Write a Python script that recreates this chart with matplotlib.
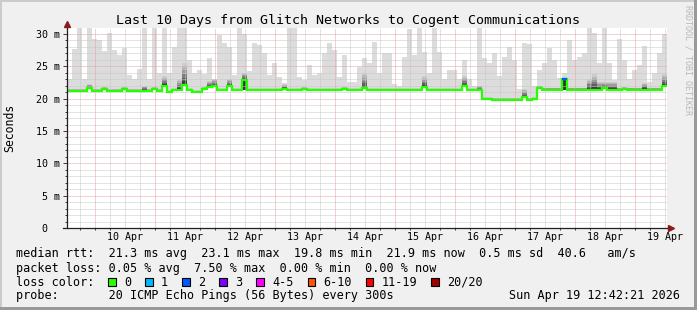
import numpy as np
import matplotlib
matplotlib.use("Agg")
import matplotlib.pyplot as plt
from matplotlib.patches import Rectangle

# SmokePing style graph, last 10 days
W, H, DPI = 697, 310, 100
MONO = "DejaVu Sans Mono"
plt.rcParams["font.family"] = MONO

# ---- data (2 hour buckets starting Apr 9 12:42, values in ms) ----
start_day = 9 + 12.7 / 24
bucket_days = 2 / 24

day_labels = ["10 Apr", "11 Apr", "12 Apr", "13 Apr", "14 Apr",
              "15 Apr", "16 Apr", "17 Apr", "18 Apr", "19 Apr"]
y_labels = [" 0", " 5 m", "10 m", "15 m", "20 m", "25 m", "30 m"]

median = [
    21.2, 21.2, 21.2, 21.2, 21.6, 21.2, 21.2, 21.5, 21.2, 21.2, 21.2, 21.5,
    21.2, 21.2, 21.2, 21.2, 21.2, 21.5, 21.2, 22.0, 21.0, 21.3, 21.3, 22.1,
    21.3, 21.0, 21.0, 21.5, 21.8, 22.0, 21.3, 21.3, 22.0, 21.3, 21.3, 22.9,
    21.3, 21.3, 21.3, 21.3, 21.3, 21.3, 21.3, 21.5, 21.3, 21.3, 21.3, 21.5,
    21.3, 21.3, 21.3, 21.3, 21.3, 21.3, 21.3, 21.5, 21.3, 21.3, 21.3, 21.6,
    21.3, 21.3, 21.3, 21.3, 21.3, 21.3, 21.3, 21.3, 21.3, 21.3, 21.3, 21.8,
    21.3, 21.3, 21.3, 21.3, 21.3, 21.3, 21.3, 21.9, 21.3, 21.3, 21.3, 19.9,
    19.9, 19.8, 19.8, 19.8, 19.8, 19.8, 19.8, 20.2, 19.8, 19.9, 21.7, 21.4,
    21.4, 21.4, 21.4, 23.1, 21.4, 21.4, 21.4, 21.4, 21.4, 21.4, 21.4, 21.6,
    21.4, 21.4, 21.4, 21.5, 21.4, 21.4, 21.4, 21.4, 21.4, 21.4, 21.4, 21.9,
]

# highest pings (light smoke)
smoke_top = [
    23.0, 27.7, 31.5, 23.0, 31.5, 29.2, 29.1, 27.4, 30.1, 27.5, 26.8, 27.8,
    23.6, 23.1, 24.6, 31.5, 23.1, 31.5, 24.0, 31.5, 24.0, 28.0, 31.5, 31.5,
    26.0, 23.9, 24.4, 23.8, 26.3, 22.5, 29.9, 28.6, 28.0, 23.6, 31.0, 30.0,
    24.3, 28.6, 28.3, 27.0, 23.6, 25.5, 23.3, 22.5, 31.5, 31.5, 23.3, 22.9,
    25.2, 23.6, 24.0, 27.0, 28.6, 27.5, 23.3, 26.7, 22.6, 22.6, 24.9, 26.3,
    25.5, 28.8, 23.9, 27.0, 27.0, 22.3, 22.0, 26.5, 30.7, 26.8, 31.5, 27.2,
    23.9, 31.5, 27.2, 23.0, 24.4, 24.4, 23.0, 26.0, 23.0, 22.0, 31.5, 26.3,
    25.5, 27.0, 23.5, 26.5, 28.0, 26.0, 21.5, 28.6, 28.5, 22.0, 24.4, 25.5,
    27.8, 26.0, 23.2, 24.0, 29.1, 26.0, 26.5, 27.0, 31.5, 30.1, 25.5, 31.5,
    25.5, 22.9, 29.3, 26.0, 23.1, 24.4, 25.2, 28.2, 22.6, 24.0, 27.0, 30.0,
]

# upper edge of the dense (dark) smoke
dark_top = [
    21.5, 21.5, 21.5, 21.5, 22.3, 21.5, 21.5, 21.8, 21.5, 21.5, 21.5, 21.8,
    21.5, 21.5, 21.5, 22.0, 21.5, 21.8, 21.5, 23.5, 21.3, 21.6, 23.0, 25.5,
    21.6, 21.3, 21.3, 21.8, 22.8, 23.0, 21.6, 21.6, 23.0, 21.6, 21.6, 24.0,
    21.6, 21.6, 21.6, 21.6, 21.6, 21.6, 21.6, 22.2, 21.6, 21.6, 21.6, 21.8,
    21.6, 21.6, 21.6, 21.6, 21.6, 21.6, 21.6, 21.8, 21.6, 21.6, 21.6, 24.0,
    21.6, 21.6, 21.6, 21.6, 21.6, 21.6, 21.6, 21.6, 21.6, 21.6, 21.6, 23.5,
    21.6, 21.6, 21.6, 21.6, 21.6, 21.6, 21.6, 23.5, 21.6, 21.6, 22.0, 20.2,
    20.2, 20.1, 20.1, 20.1, 20.1, 20.1, 20.1, 21.5, 20.1, 20.2, 22.0, 21.7,
    21.7, 21.7, 21.7, 23.2, 21.7, 21.7, 21.7, 21.7, 23.0, 23.8, 22.6, 22.6,
    22.6, 22.6, 21.7, 21.8, 21.7, 21.7, 21.7, 22.5, 21.7, 21.7, 21.7, 23.8,
]

# dense pings below the median (bucket -> lowest dark value)
dark_below = {35: 21.3, 99: 21.4}
# packet loss per bucket (all others 0)
loss_bins = {99: 2}

loss_labels = ["0", "1", "2", "3", "4-5", "6-10", "11-19", "20/20"]
loss_colors = ["#26ff00", "#00b8ff", "#0059ff", "#7e00ff",
               "#ff00ff", "#ff5500", "#ff0000", "#a10000"]

legend_rows = [
    "median rtt:  21.3 ms avg  23.1 ms max  19.8 ms min  21.9 ms now  0.5 ms sd  40.6   am/s",
    "packet loss: 0.05 % avg  7.50 % max  0.00 % min  0.00 % now",
    "loss color:",
    "probe:       20 ICMP Echo Pings (56 Bytes) every 300s",
]
stamp = "Sun Apr 19 12:42:21 2026"

# ---- figure ----
fig = plt.figure(figsize=(W / DPI, H / DPI), dpi=DPI, facecolor="#f0f0f0")
ax = fig.add_axes([67 / W, 1 - 228 / H, 600 / W, 200 / H])
ax.set_facecolor("white")

n = len(median)
edges = start_day + np.arange(n + 1) * bucket_days
med = np.array(median)
dtop = np.array(dark_top)

# smoke
ax.stairs(smoke_top, edges, baseline=med, fill=True, color="#dcdcdc", zorder=1)
shades = ["#cccccc", "#b6b6b6", "#9c9c9c", "#7e7e7e", "#5e5e5e", "#3c3c3c"]
for j, c in enumerate(shades):
    frac = 1 - j / len(shades)
    ax.stairs(med + (dtop - med) * frac, edges, baseline=med, fill=True,
              color=c, zorder=1.1 + j * 0.01)
for k, lo in dark_below.items():
    ax.bar(edges[k], med[k] - lo, width=bucket_days, bottom=lo, align="edge",
           color="#333333", linewidth=0, zorder=1.2)

# grid (drawn over the smoke like rrdtool)
GRID = "#c8c8c8"
MGRID = "#f0a0a0"
dot = (0, (1, 1))
for h in np.arange(9.75, start_day + 10, 0.25):
    if abs(h - round(h)) > 1e-6:
        ax.axvline(h, color=GRID, ls=dot, lw=0.72, zorder=2)
for d in range(10, 20):
    ax.axvline(d, color=MGRID, ls=dot, lw=0.72, zorder=2.1)
for v in range(1, 31):
    ax.axhline(v, color=MGRID if v % 5 == 0 else GRID, ls=dot, lw=0.72,
               zorder=2.1 if v % 5 == 0 else 2)

# median line coloured by loss
ax.stairs(median, edges, baseline=None, color=loss_colors[0], lw=1.6, zorder=4)
for k, lv in loss_bins.items():
    ax.hlines(median[k], edges[k], edges[k + 1], color=loss_colors[lv],
              lw=1.6, zorder=4.1)

ax.set_xlim(start_day, start_day + 10)
ax.set_ylim(0, 30.93)
for s in ax.spines.values():
    s.set_visible(False)

# ticks
ax.set_xticks(np.arange(10, 20) + 0.5, day_labels)
ax.set_xticks(np.arange(9.75, start_day + 10, 0.25), minor=True)
ax.tick_params(axis="x", which="major", length=0, pad=3.0, labelsize=7.2)
ax.tick_params(axis="x", which="minor", length=1.5, width=0.72, color="#404040")
ax.set_yticks(np.arange(0, 31, 5), y_labels)
ax.set_yticks(np.arange(0, 31, 1), minor=True)
ax.tick_params(axis="y", which="major", length=2.9, width=0.72, color="#404040",
               pad=19.4, labelsize=7.2)
ax.tick_params(axis="y", which="minor", length=1.8, width=0.72, color="#404040")
for lab in ax.get_yticklabels():
    lab.set_horizontalalignment("left")

# axes with arrows
ax.plot([-0.006, 1.005], [0, 0], transform=ax.transAxes, color="#202020",
        lw=0.9, clip_on=False, zorder=5)
ax.plot([0, 0], [0, 1.015], transform=ax.transAxes, color="#202020",
        lw=0.9, clip_on=False, zorder=5)
ax.plot([0], [1.0215], transform=ax.transAxes, marker="^", ms=4.2,
        color="#8b1a1a", clip_on=False, zorder=6)
ax.plot([1.0065], [0], transform=ax.transAxes, marker=">", ms=4.2,
        color="#8b1a1a", clip_on=False, zorder=6)

# texts
def fy(y):
    return 1 - y / H

fig.text(347.5 / W, fy(24), "Last 10 Days from Glitch Networks to Cogent Communications",
         ha="center", va="baseline", fontsize=9.6)
fig.text(10 / W, fy(128), "Seconds", rotation=90, ha="center", va="center",
         fontsize=8.3)
fig.text(688 / W, fy(5), "RRDTOOL / TOBI OETIKER", rotation=270, ha="center",
         va="top", fontsize=6, color="#b8b8b8")

baselines = [257.5, 271.6, 285.6, 299.5]
for row, yb in zip(legend_rows, baselines):
    fig.text(16 / W, fy(yb), row, ha="left", va="baseline", fontsize=8.5)
fig.text(680 / W, fy(baselines[3]), stamp, ha="right", va="baseline", fontsize=8.5)

cw = 7.1
x = 108.3
for lab, col in zip(loss_labels, loss_colors):
    fig.add_artist(Rectangle((x / W, fy(285.7)), 7.5 / W, 7.5 / H,
                             transform=fig.transFigure, facecolor=col,
                             edgecolor="black", lw=0.8))
    fig.text((x + 15.7) / W, fy(baselines[2]), lab, ha="left", va="baseline",
             fontsize=8.5)
    x += 15.7 + len(lab) * cw + 2 * cw

# 3d-ish frame
fig.add_artist(Rectangle((0, 1 - 2 / H), 1, 2 / H, transform=fig.transFigure,
                         color="#cbcbcb", lw=0))
fig.add_artist(Rectangle((0, 0), 2 / W, 1, transform=fig.transFigure,
                         color="#cbcbcb", lw=0))
fig.add_artist(Rectangle((0, 0), 1, 3 / H, transform=fig.transFigure,
                         color="#999999", lw=0))
fig.add_artist(Rectangle((1 - 3 / W, 0), 3 / W, 1, transform=fig.transFigure,
                         color="#999999", lw=0))

fig.savefig("out.png", dpi=DPI, facecolor=fig.get_facecolor())
